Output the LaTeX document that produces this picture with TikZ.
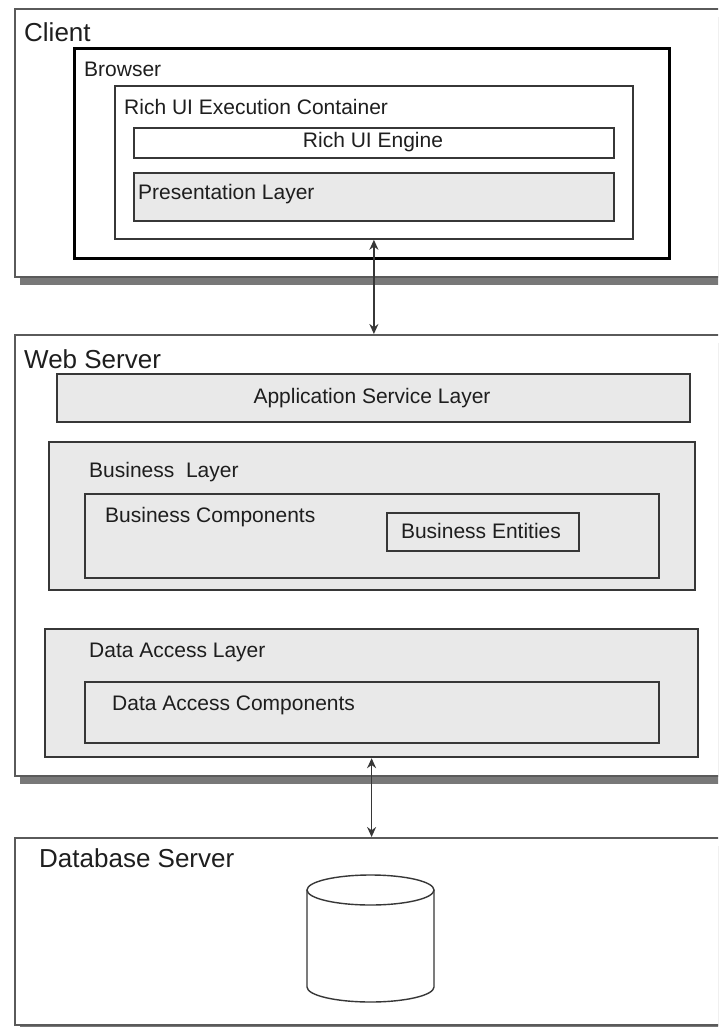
\documentclass[tikz,border=0pt]{standalone}
\usepackage{fontspec}
\setmainfont{Liberation Sans}
\usetikzlibrary{arrows.meta}
\definecolor{panelfill}{RGB}{233,233,233}
\definecolor{edge}{RGB}{55,55,55}
\definecolor{outeredge}{RGB}{90,90,90}
\definecolor{shade}{RGB}{120,120,120}
\definecolor{ink}{RGB}{30,30,30}
\tikzset{
  tier/.style={draw=outeredge, line width=2.2pt, fill=white, anchor=north west, inner sep=0pt},
  tiershadow/.style={fill=shade, draw=none, anchor=north west, inner sep=0pt},
  browserbox/.style={draw=black, line width=3pt, fill=white, anchor=north west, inner sep=0pt},
  holder/.style={draw=edge, line width=1.8pt, fill=white, anchor=north west, inner sep=0pt},
  layerbox/.style={draw=edge, line width=2.2pt, fill=panelfill, anchor=north west, inner sep=0pt},
  plainbox/.style={draw=edge, line width=2.2pt, fill=white, anchor=north west, inner sep=0pt},
  biglabel/.style={anchor=base west, inner sep=0pt, text=ink, font=\fontsize{26}{30}\selectfont},
  label/.style={anchor=base west, inner sep=0pt, text=ink, font=\fontsize{21}{25}\selectfont},
  midlabel/.style={anchor=base, inner sep=0pt, text=ink, font=\fontsize{21}{25}\selectfont},
  link/.style={draw=edge, line width=1.6pt, {Stealth[length=10pt,width=9pt]}-{Stealth[length=10pt,width=9pt]}},
}
\begin{document}
\begin{tikzpicture}[x=1pt, y=-1pt]
\useasboundingbox (0,0) rectangle (718,1027);
\clip (0,0) rectangle (718,1027);

% ---- Client tier ----
\node[tiershadow, minimum width=720pt, minimum height=268pt] (clientshadow) at (20,17) {};
\node[tier, minimum width=720pt, minimum height=268pt] (client) at (14,8) {};
\node[biglabel] (clientlabel) at (24,42) {Client};
\node[browserbox, minimum width=595pt, minimum height=210pt] (browser) at (73,47) {};
\node[label] (browserlabel) at (84,77) {Browser};
\node[holder, minimum width=518pt, minimum height=153pt] (container) at (114,85) {};
\node[label] (containerlabel) at (124,115) {Rich UI Execution Container};
\node[plainbox, minimum width=480pt, minimum height=30pt] (engine) at (133,127) {};
\node[midlabel] (enginelabel) at (373,148) {Rich UI Engine};
\node[layerbox, minimum width=480pt, minimum height=48pt] (presentation) at (133,172) {};
\node[label] (presentationlabel) at (138,200) {Presentation Layer};

% ---- Web server tier ----
\node[tiershadow, minimum width=720pt, minimum height=441pt] (webshadow) at (20,343) {};
\node[tier, minimum width=720pt, minimum height=441pt] (web) at (14,334) {};
\node[biglabel] (weblabel) at (24,368) {Web Server};
\node[layerbox, minimum width=633pt, minimum height=48pt] (service) at (56,373) {};
\node[midlabel] (servicelabel) at (372,403) {Application Service Layer};
\node[layerbox, minimum width=646pt, minimum height=148pt] (business) at (48,441) {};
\node[label] (businesslabel) at (89,477) {Business\ \ Layer};
\node[layerbox, minimum width=574pt, minimum height=84pt] (components) at (84,493) {};
\node[label] (componentslabel) at (105,522) {Business Components};
\node[layerbox, minimum width=192pt, minimum height=38pt] (entities) at (386,512) {};
\node[midlabel] (entitieslabel) at (481,538) {Business Entities};
\node[layerbox, minimum width=653pt, minimum height=128pt] (dal) at (44,628) {};
\node[label] (dallabel) at (89,657) {Data Access Layer};
\node[layerbox, minimum width=574pt, minimum height=61pt] (dac) at (84,681) {};
\node[label] (daclabel) at (112,710) {Data Access Components};

% ---- Database tier ----
\node[tiershadow, minimum width=720pt, minimum height=187pt] (dbshadow) at (20,846) {};
\node[tier, minimum width=720pt, minimum height=187pt] (db) at (14,837) {};
\node[biglabel] (dblabel) at (39,867) {Database Server};

% database cylinder
\coordinate (cyltop) at (370.5,890);
\draw[edge, line width=1.4pt, fill=white]
  (307,890) -- (307,987) arc[start angle=180, end angle=360, x radius=63.5pt, y radius=15pt]
  -- (434,890);
\draw[edge, line width=1.4pt, fill=white] (cyltop) ellipse[x radius=63.5pt, y radius=15pt];

% ---- connections between tiers ----
\draw[link] (container.south) -- (container.south |- web.north);
\draw[link] (dal.south) -- (dal.south |- db.north);
\end{tikzpicture}
\end{document}
